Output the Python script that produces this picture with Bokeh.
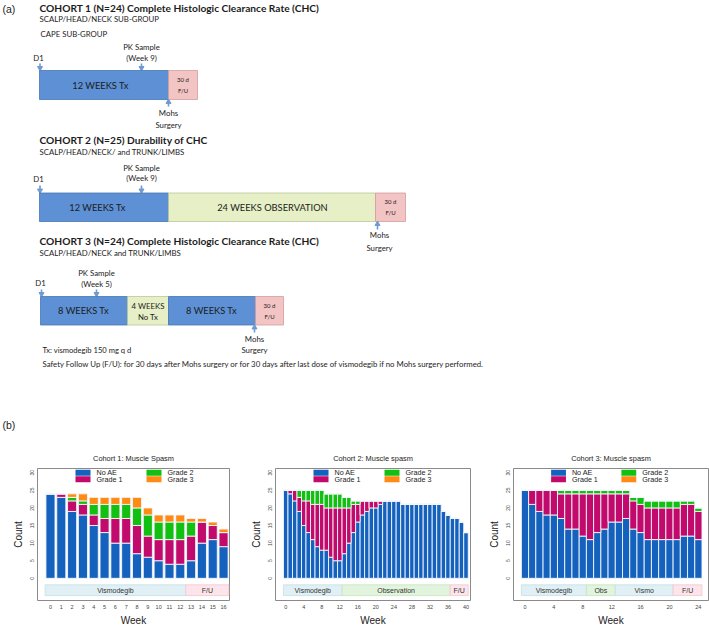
import numpy as np
from bokeh.plotting import figure
from bokeh.models import Range1d, ColumnDataSource, FixedTicker
from bokeh.layouts import column, row
from bokeh.embed import file_html
from bokeh.resources import INLINE
from bokeh.core.properties import value

# ---------------- data (panel b) ----------------
c1_weeks = list(range(0, 17))
c1_noae = [24, 23, 19, 18, 15, 13, 10, 10, 7, 6, 5, 4, 4, 5, 10, 11, 9]
c1_g1 = [0, 1, 3, 3, 3, 4, 7, 7, 8, 6, 6, 7, 7, 7, 6, 4, 4]
c1_g2 = [0, 0, 1, 1, 3, 4, 4, 4, 5, 6, 5, 5, 5, 4, 0, 0, 0]
c1_g3 = [0, 0, 1, 2, 2, 2, 2, 2, 3, 2, 2, 2, 2, 1, 1, 1, 1]
c1_ticks = list(range(0, 17))
c1_phase = ["Vismodegib", "F/U"]
c1_phase_from = [-0.5, 12.5]
c1_phase_to = [12.5, 16.5]

c2_weeks = list(range(0, 41))
c2_noae = [25, 24, 22, 19, 15, 13, 11, 9, 8, 8, 6, 5, 5, 7, 10, 13, 16, 18, 19, 20, 20, 21,
           22, 22, 22, 22,
           21, 21, 21, 21, 21, 21, 21, 21, 21,
           19, 18, 17, 17, 16, 13]
c2_g1 = [0, 1, 3, 4, 7, 9, 10, 12, 13, 12, 14, 15, 15, 13, 10, 8, 5, 4, 3, 2, 2, 1] + [0] * 19
c2_g2 = [0, 0, 0, 2, 3, 3, 4, 4, 4, 4, 4, 4, 4, 3, 3, 1, 1, 0, 0, 0, 0, 0] + [0] * 19
c2_g3 = [0] * 41
c2_ticks = list(range(0, 41, 4))
c2_phase = ["Vismodegib", "Observation", "F/U"]
c2_phase_from = [-0.5, 12.5, 36.5]
c2_phase_to = [12.5, 36.5, 40.5]

c3_weeks = list(range(0, 25))
c3_noae = [25, 21, 19, 18, 18, 17, 14, 14, 12, 11, 13, 14, 16, 16, 17, 14, 13, 11, 11, 11, 11, 11, 12, 12, 11]
c3_g1 = [0, 4, 6, 7, 7, 7, 10, 10, 12, 13, 11, 10, 8, 8, 7, 8, 8, 9, 9, 9, 9, 9, 9, 9, 8]
c3_g2 = [0, 0, 0, 0, 0, 1, 1, 1, 1, 1, 1, 1, 1, 1, 1, 1, 2, 2, 2, 2, 2, 2, 1, 1, 1]
c3_g3 = [0] * 25
c3_ticks = list(range(0, 25, 4))
c3_phase = ["Vismodegib", "Obs", "Vismo", "F/U"]
c3_phase_from = [-0.5, 8.5, 12.5, 20.5]
c3_phase_to = [8.5, 12.5, 20.5, 24.5]

series_names = ["No AE", "Grade 1", "Grade 2", "Grade 3"]
series_colors = ["#1461be", "#c20a6c", "#12c012", "#ff8a14"]
phase_colors = {"Vismodegib": ("#e3f1f6", "#c4e0ea"), "Vismo": ("#e3f1f6", "#c4e0ea"),
                "Observation": ("#e5f5e0", "#c5e6bd"), "Obs": ("#e5f5e0", "#c5e6bd"),
                "F/U": ("#fde8ed", "#f3c6d1")}

# ---------------- panel (a) ----------------
FA = "Lato"
ink = "#1c1c1c"
tx_blue = "#5d90d4"
tx_blue_line = "#4676b4"
obs_green = "#e6efc5"
obs_line = "#b9c79a"
fu_pink = "#f3c4c4"
fu_line = "#d39c9c"
arrow_c = "#6f9bd1"
SM = 7.8   # small annotation text size

pa = figure(width=709, height=440, x_range=Range1d(0, 709), y_range=Range1d(440, 0),
            output_backend="svg", toolbar_location=None, min_border=0,
            x_axis_type=None, y_axis_type=None)
pa.grid.visible = False
pa.outline_line_color = None


def txt(p, x, y, s, size, bold=False, align="left", font=FA, color=ink):
    p.text(x=[x], y=[y], text=[s], text_font=value(font),
           text_font_size=f"{size:.2f}px",
           text_font_style="bold" if bold else "normal",
           text_align=align, text_baseline="middle", text_color=color)


def seg(p, x0, x1, y0, y1, fill, line):
    p.quad(left=[x0], right=[x1], top=[y0], bottom=[y1], fill_color=fill,
           line_color=line, line_width=0.8)


def arrow_down(p, x, ytop, ybar):
    p.segment(x0=[x], y0=[ytop], x1=[x], y1=[ybar - 2], line_color=arrow_c, line_width=1.6)
    p.scatter(x=[x], y=[ybar - 2.5], marker="inverted_triangle", size=5,
              fill_color=arrow_c, line_color=arrow_c)


def arrow_up(p, x, ybar, ybot):
    p.segment(x0=[x], y0=[ybar + 2], x1=[x], y1=[ybot], line_color=arrow_c, line_width=1.6)
    p.scatter(x=[x], y=[ybar + 2.5], marker="triangle", size=5,
              fill_color=arrow_c, line_color=arrow_c)


txt(pa, 2, 8, "(a)", 10.5, font="Liberation Sans")

# Cohort 1
txt(pa, 39, 7.5, "COHORT 1 (N=24) Complete Histologic Clearance Rate (CHC)", 10.2, bold=True)
txt(pa, 39, 18.5, "SCALP/HEAD/NECK SUB-GROUP", SM)
txt(pa, 40, 33, "CAPE SUB-GROUP", SM)
txt(pa, 141, 46, "PK Sample", SM, align="center")
txt(pa, 141, 57.5, "(Week 9)", SM, align="center")
txt(pa, 38, 57.5, "D1", SM, align="center")
arrow_down(pa, 39.5, 63, 70)
arrow_down(pa, 141, 63, 70)
seg(pa, 39, 168, 70, 99, tx_blue, tx_blue_line)
seg(pa, 168, 197, 70, 99, fu_pink, fu_line)
txt(pa, 100, 84.5, "12 WEEKS Tx", 9.3, align="center")
txt(pa, 182.5, 78.5, "30 d", 6, align="center")
txt(pa, 182.5, 90, "F/U", 6, align="center")
arrow_up(pa, 168, 99, 106)
txt(pa, 168, 112.5, "Mohs", SM, align="center")
txt(pa, 168, 124, "Surgery", SM, align="center")

# Cohort 2
txt(pa, 39, 139.5, "COHORT 2 (N=25) Durability of CHC", 10.2, bold=True)
txt(pa, 39, 151, "SCALP/HEAD/NECK/ and TRUNK/LIMBS", SM)
txt(pa, 141, 167, "PK Sample", SM, align="center")
txt(pa, 141, 177, "(Week 9)", SM, align="center")
txt(pa, 38, 178.5, "D1", SM, align="center")
arrow_down(pa, 39.5, 185, 192.5)
arrow_down(pa, 141, 185, 192.5)
seg(pa, 39, 168, 192.5, 221, tx_blue, tx_blue_line)
seg(pa, 168, 375, 192.5, 221, obs_green, obs_line)
seg(pa, 375, 405, 192.5, 221, fu_pink, fu_line)
txt(pa, 97, 207, "12 WEEKS Tx", 9.3, align="center")
txt(pa, 272, 207, "24 WEEKS OBSERVATION", 9.3, align="center")
txt(pa, 390, 201, "30 d", 6, align="center")
txt(pa, 390, 212, "F/U", 6, align="center")
arrow_up(pa, 377, 221, 229)
txt(pa, 379, 234.5, "Mohs", SM, align="center")
txt(pa, 379, 247, "Surgery", SM, align="center")

# Cohort 3
txt(pa, 39, 240.5, "COHORT 3 (N=24) Complete Histologic Clearance Rate (CHC)", 10.2, bold=True)
txt(pa, 39, 252, "SCALP/HEAD/NECK and TRUNK/LIMBS", SM)
txt(pa, 96, 272, "PK Sample", SM, align="center")
txt(pa, 96, 283.5, "(Week 5)", SM, align="center")
txt(pa, 40, 282, "D1", SM, align="center")
arrow_down(pa, 41, 289, 296)
arrow_down(pa, 96, 289, 296)
seg(pa, 40, 127, 296, 324.5, tx_blue, tx_blue_line)
seg(pa, 127, 168, 296, 324.5, obs_green, obs_line)
seg(pa, 168, 255, 296, 324.5, tx_blue, tx_blue_line)
seg(pa, 255, 283, 296, 324.5, fu_pink, fu_line)
txt(pa, 83, 310, "8 WEEKS Tx", 9.3, align="center")
txt(pa, 147.5, 305, "4 WEEKS", 7.8, align="center")
txt(pa, 147.5, 316, "No Tx", 7.8, align="center")
txt(pa, 211, 310, "8 WEEKS Tx", 9.3, align="center")
txt(pa, 269, 304.5, "30 d", 6, align="center")
txt(pa, 269, 316, "F/U", 6, align="center")
arrow_up(pa, 254, 324.5, 332)
txt(pa, 254, 338, "Mohs", SM, align="center")
txt(pa, 254, 349.5, "Surgery", SM, align="center")
txt(pa, 42, 349.5, "Tx: vismodegib 150 mg q d", 7.6)
txt(pa, 42, 363.5, "Safety Follow Up (F/U): for 30 days after Mohs surgery or for 30 days "
    "after last dose of vismodegib if no Mohs surgery performed.", 7.8)

txt(pa, 2, 424, "(b)", 10.5, font="Liberation Sans")

# ---------------- panel (b) ----------------
FB = "Liberation Sans"
PH = 188
FRAME_H = 135
Y0, Y1 = -6.3, 31.2


def make_chart(title, weeks, noae, g1, g2, g3, ticks, phases, pfrom, pto,
               x_start, x_end, width, left, right, bar_w):
    p = figure(width=width, height=PH, x_range=Range1d(x_start, x_end),
               y_range=Range1d(Y0, Y1), output_backend="svg",
               toolbar_location=None, min_border_left=left, min_border_right=right,
               min_border_top=28, min_border_bottom=25)
    p.grid.visible = False
    p.outline_line_color = "#8a8a8a"
    p.outline_line_width = 1
    p.title.text = title
    p.title.align = "center"
    p.title.text_font = FB
    p.title.text_font_size = "7.4px"
    p.title.text_font_style = "normal"
    p.title.text_color = "#222222"
    p.title.standoff = 12

    src = ColumnDataSource(dict(week=weeks, noae=noae, g1=g1, g2=g2, g3=g3))
    p.vbar_stack(["noae", "g1", "g2", "g3"], x="week", width=bar_w,
                 color=series_colors, line_color="#f4f7fb", line_width=0.9,
                 source=src)

    fills = [phase_colors[n][0] for n in phases]
    lines = [phase_colors[n][1] for n in phases]
    psrc = ColumnDataSource(dict(l=pfrom, r=pto, name=phases, fill=fills, line=lines,
                                 mid=[(a + b) / 2 for a, b in zip(pfrom, pto)]))
    p.quad(left="l", right="r", top=-1.85, bottom=-4.9, fill_color="fill",
           line_color="line", line_width=0.8, source=psrc,
           hatch_pattern="right_diagonal_line", hatch_color="line",
           hatch_alpha=0.35, hatch_scale=3, hatch_weight=0.5)
    p.text(x="mid", y=-3.4, text="name", source=psrc, text_font=value(FB),
           text_font_size="7px", text_align="center", text_baseline="middle",
           text_color="#333333")

    # legend drawn in two columns; offsets in frame pixels converted to data units
    frame_w = width - left - right
    kx = (x_end - x_start) / frame_w
    ky = (Y1 - Y0) / FRAME_H
    spots = [(38, 1.3), (38, 8.0), (109, 1.3), (109, 8.0)]
    lsrc = ColumnDataSource(dict(
        l=[x_start + sx * kx for sx, sy in spots],
        r=[x_start + (sx + 15) * kx for sx, sy in spots],
        t=[Y1 - sy * ky for sx, sy in spots],
        b=[Y1 - (sy + 6) * ky for sx, sy in spots],
        tx=[x_start + (sx + 21) * kx for sx, sy in spots],
        ty=[Y1 - (sy + 3.2) * ky for sx, sy in spots],
        name=series_names, color=series_colors))
    p.quad(left="l", right="r", top="t", bottom="b", fill_color="color",
           line_color=None, source=lsrc)
    p.text(x="tx", y="ty", text="name", source=lsrc, text_font=value(FB),
           text_font_size="7.2px", text_align="left", text_baseline="middle",
           text_color="#222222")

    p.yaxis.ticker = FixedTicker(ticks=[0, 5, 10, 15, 20, 25, 30])
    p.yaxis.major_label_orientation = "vertical"
    p.yaxis.major_label_text_font_size = "5px"
    p.yaxis.major_label_text_font = FB
    p.yaxis.major_label_text_color = "#444444"
    p.yaxis.axis_line_color = None
    p.yaxis.major_tick_line_color = None
    p.yaxis.minor_tick_line_color = None
    p.yaxis.major_tick_out = 0
    p.yaxis.major_label_standoff = 3
    p.yaxis.axis_label = "Count"
    p.yaxis.axis_label_text_font = FB
    p.yaxis.axis_label_text_font_size = "10px"
    p.yaxis.axis_label_text_font_style = "normal"
    p.yaxis.axis_label_text_color = "#222222"
    p.yaxis.axis_label_standoff = 4

    p.xaxis.ticker = FixedTicker(ticks=ticks)
    p.xaxis.major_label_text_font_size = "5.5px"
    p.xaxis.major_label_text_font = FB
    p.xaxis.major_label_text_color = "#444444"
    p.xaxis.axis_line_color = None
    p.xaxis.major_tick_line_color = None
    p.xaxis.minor_tick_line_color = None
    p.xaxis.major_tick_out = 0
    p.xaxis.major_label_standoff = 4
    p.xaxis.axis_label = "Week"
    p.xaxis.axis_label_text_font = FB
    p.xaxis.axis_label_text_font_size = "10px"
    p.xaxis.axis_label_text_font_style = "normal"
    p.xaxis.axis_label_text_color = "#222222"
    p.xaxis.axis_label_standoff = 3
    return p


f1 = make_chart("Cohort 1: Muscle Spasm", c1_weeks, c1_noae, c1_g1, c1_g2, c1_g3,
                c1_ticks, c1_phase, c1_phase_from, c1_phase_to,
                -1.2, 16.55, 240, 37, 11, 0.84)
f2 = make_chart("Cohort 2: Muscle spasm", c2_weeks, c2_noae, c2_g1, c2_g2, c2_g3,
                c2_ticks, c2_phase, c2_phase_from, c2_phase_to,
                -2.27, 41.0, 245, 35, 15, 1.0)
f3 = make_chart("Cohort 3: Muscle spasm", c3_weeks, c3_noae, c3_g1, c3_g2, c3_g3,
                c3_ticks, c3_phase, c3_phase_from, c3_phase_to,
                -1.59, 25.4, 224, 26, 1, 1.0)

layout = column(pa, row(f1, f2, f3))
open("out.html", "w").write(file_html(layout, INLINE))
